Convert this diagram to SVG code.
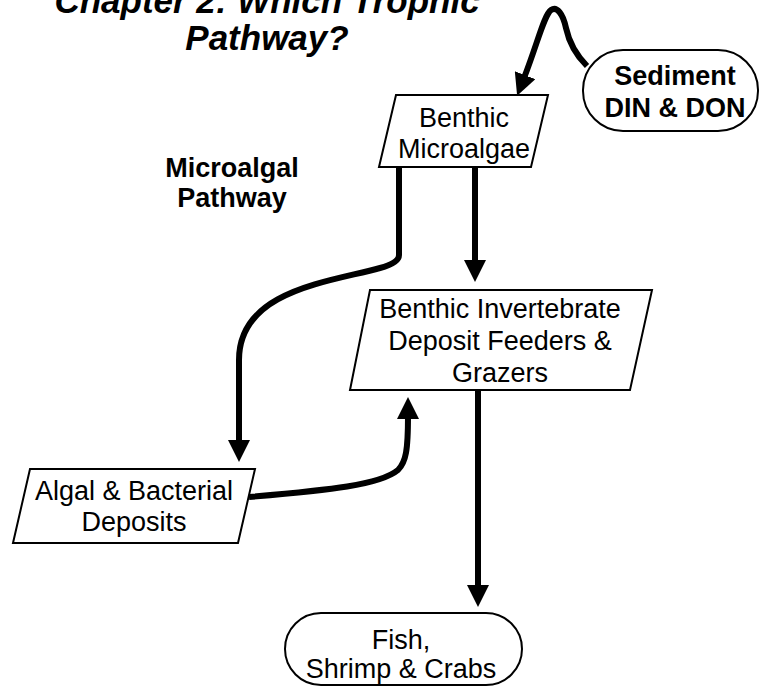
<svg xmlns="http://www.w3.org/2000/svg" width="760" height="688" viewBox="0 0 760 688">
  <style>
    .box { fill: #ffffff; stroke: #000000; stroke-width: 2; }
    .lbl { font-family: "Liberation Sans", Arial, sans-serif; font-size: 27px; fill: #000000; text-anchor: middle; }
    .bold { font-weight: bold; }
    .title { font-family: "Liberation Sans", Arial, sans-serif; font-size: 35px; font-weight: bold; font-style: italic; fill: #000000; text-anchor: middle; }
    .flow { fill: none; stroke: #000000; stroke-width: 6; stroke-linejoin: round; }
  </style>
  <defs>
    <!-- filled arrowhead, tip sits 19px beyond the end of the line -->
    <marker id="head" viewBox="0 0 22 22" refX="3" refY="11" markerWidth="22" markerHeight="22" markerUnits="userSpaceOnUse" orient="auto">
      <path d="M0,0 L22,11 L0,22 Z" fill="#000000"/>
    </marker>
  </defs>

  <rect width="760" height="688" fill="#ffffff"/>

  <!-- title -->
  <g id="title">
    <text class="title" x="267" y="13">Chapter 2: Which Trophic</text>
    <text class="title" x="267" y="50">Pathway?</text>
  </g>

  <g id="pathway-label">
    <text class="lbl bold" x="232" y="177">Microalgal</text>
    <text class="lbl bold" x="232" y="207">Pathway</text>
  </g>

  <!-- connectors -->
  <g id="connectors">
    <path class="flow" d="M587,66 C576,55 569,42 566,28 C563,14 557,6 551,10 C544,15 538,42 524,78" marker-end="url(#head)"/>
    <path class="flow" d="M399,167 L399,255 Q399,263 380,268 C330,282 239,290 239,360 L239,443" marker-end="url(#head)"/>
    <path class="flow" d="M475,167 L475,263" marker-end="url(#head)"/>
    <path class="flow" d="M249,497 C330,490 380,485 398,470 C406,462 408,450 408,416" marker-end="url(#head)"/>
    <path class="flow" d="M478,390 L478,588" marker-end="url(#head)"/>
  </g>

  <g id="sediment">
    <rect class="box" x="583" y="50" width="175" height="81" rx="40"/>
    <text class="lbl bold" x="675" y="85">Sediment</text>
    <text class="lbl bold" x="675" y="117">DIN &amp; DON</text>
  </g>

  <g id="microalgae">
    <polygon class="box" points="396,95 548,95 531,167 379,167"/>
    <text class="lbl" x="464" y="127">Benthic</text>
    <text class="lbl" x="464" y="158">Microalgae</text>
  </g>

  <g id="invertebrates">
    <polygon class="box" points="370,290 652,290 630,390 350,390"/>
    <text class="lbl" x="500" y="318">Benthic Invertebrate</text>
    <text class="lbl" x="500" y="350">Deposit Feeders &amp;</text>
    <text class="lbl" x="500" y="382">Grazers</text>
  </g>

  <g id="deposits">
    <polygon class="box" points="30,469 255,469 238,543 13,543"/>
    <text class="lbl" x="134" y="500">Algal &amp; Bacterial</text>
    <text class="lbl" x="134" y="531">Deposits</text>
  </g>

  <g id="consumers">
    <rect class="box" x="285" y="613" width="237" height="72" rx="36"/>
    <text class="lbl" x="401" y="649">Fish,</text>
    <text class="lbl" x="401" y="678">Shrimp &amp; Crabs</text>
  </g>
</svg>
